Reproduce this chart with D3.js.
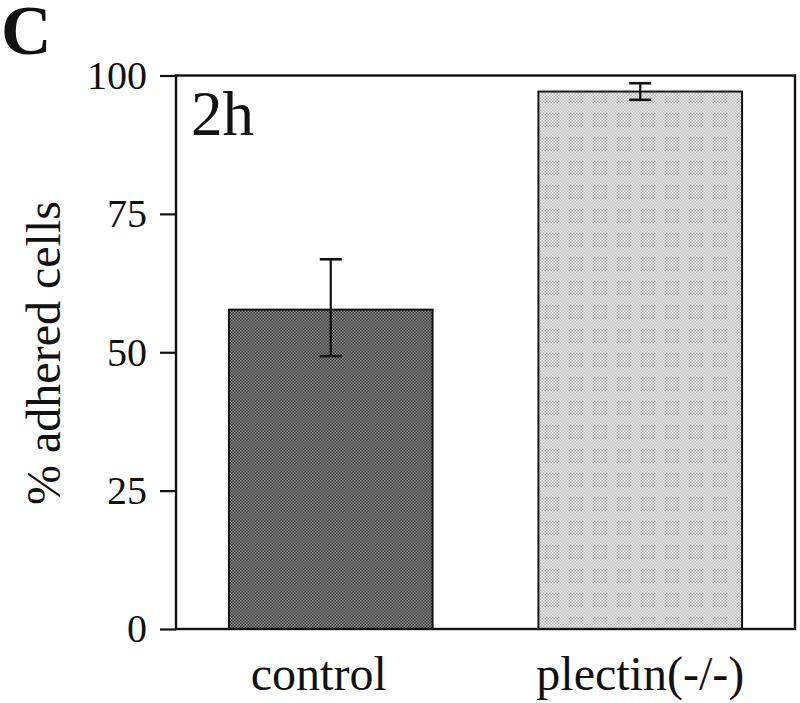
<!DOCTYPE html>
<html>
<head>
<meta charset="utf-8">
<script src="https://cdn.jsdelivr.net/npm/d3@7"></script>
<style>
  body { margin: 0; background: #fff; }
  svg { display: block; }
</style>
</head>
<body>
<div class="canvas"></div>
<script>
// data
const categories = ['control', 'plectin(-/-)'];
const means = [57.7, 97.1];
const errLow = [49.3, 95.6];
const errHigh = [66.8, 98.6];
const yTicks = [0, 25, 50, 75, 100];

const svg = d3.select('.canvas').append('svg')
    .attr('width', 800)
    .attr('height', 703);

const serif = '"Liberation Serif", "Times New Roman", serif';

// halftone-like fills
const defs = svg.append('defs');
function checker(id, a, b) {
  const p = defs.append('pattern')
      .attr('id', id)
      .attr('width', 3).attr('height', 3)
      .attr('patternUnits', 'userSpaceOnUse');
  p.append('rect').attr('width', 3).attr('height', 3).attr('fill', a);
  p.append('rect').attr('width', 1.5).attr('height', 1.5).attr('fill', b);
  p.append('rect').attr('x', 1.5).attr('y', 1.5).attr('width', 1.5).attr('height', 1.5).attr('fill', b);
}
checker('darkFill', '#3c3c3c', '#8a8a8a');
checker('lightFill', '#bcbcbc', '#ececec');
const fills = ['url(#darkFill)', 'url(#lightFill)'];

const plot = { left: 176, right: 795, top: 75.5, bottom: 629 };

const x = d3.scaleBand()
    .domain(categories)
    .range([plot.left, plot.right])
    .paddingInner(0.342)
    .paddingOuter(0.171);

const y = d3.scaleLinear()
    .domain([0, 100])
    .range([plot.bottom, plot.top]);

// bars
svg.selectAll('rect.bar')
  .data(categories)
  .join('rect')
    .attr('class', 'bar')
    .attr('x', d => x(d))
    .attr('y', (d, i) => y(means[i]))
    .attr('width', x.bandwidth())
    .attr('height', (d, i) => y(0) - y(means[i]))
    .attr('fill', (d, i) => fills[i])
    .attr('stroke', '#111')
    .attr('stroke-width', 2);

// error bars
const err = svg.append('g').attr('stroke', '#111').attr('stroke-width', 2.2);
categories.forEach((c, i) => {
  const cx = x(c) + x.bandwidth() / 2;
  err.append('line')
      .attr('x1', cx).attr('x2', cx)
      .attr('y1', y(errLow[i])).attr('y2', y(errHigh[i]));
  [errLow[i], errHigh[i]].forEach(v => {
    err.append('line')
        .attr('x1', cx - 11).attr('x2', cx + 11)
        .attr('y1', y(v)).attr('y2', y(v))
        .attr('stroke-width', 2.6);
  });
});

// frame
svg.append('rect')
    .attr('x', plot.left).attr('y', plot.top)
    .attr('width', plot.right - plot.left).attr('height', plot.bottom - plot.top)
    .attr('fill', 'none')
    .attr('stroke', '#111')
    .attr('stroke-width', 2.4);

// y axis
const yAxis = svg.append('g')
    .attr('transform', `translate(${plot.left},0)`)
    .call(d3.axisLeft(y).tickValues(yTicks).tickSize(16).tickPadding(13));
yAxis.select('.domain').remove();
yAxis.selectAll('line').attr('stroke', '#111').attr('stroke-width', 2.2);
yAxis.selectAll('text')
    .attr('fill', '#111')
    .style('font-family', serif)
    .style('font-size', '40px');

// x labels (control label sits a bit left of its bar in the original)
const labelShift = [-12, 0];
svg.selectAll('text.cat')
  .data(categories)
  .join('text')
    .attr('class', 'cat')
    .attr('x', (d, i) => x(d) + x.bandwidth() / 2 + labelShift[i])
    .attr('y', 690)
    .attr('text-anchor', 'middle')
    .attr('fill', '#111')
    .style('font-family', serif)
    .style('font-size', '48px')
    .text(d => d);

// y label
svg.append('text')
    .attr('transform', 'translate(60,353) rotate(-90)')
    .attr('text-anchor', 'middle')
    .attr('fill', '#111')
    .style('font-family', serif)
    .style('font-size', '48px')
    .text('% adhered cells');

// panel text
svg.append('text')
    .attr('x', 191).attr('y', 135)
    .attr('fill', '#111')
    .style('font-family', serif)
    .style('font-size', '63px')
    .text('2h');

svg.append('text')
    .attr('x', 1).attr('y', 54)
    .attr('fill', '#111')
    .style('font-family', serif)
    .style('font-weight', 'bold')
    .style('font-size', '70px')
    .text('C');
</script>
</body>
</html>
